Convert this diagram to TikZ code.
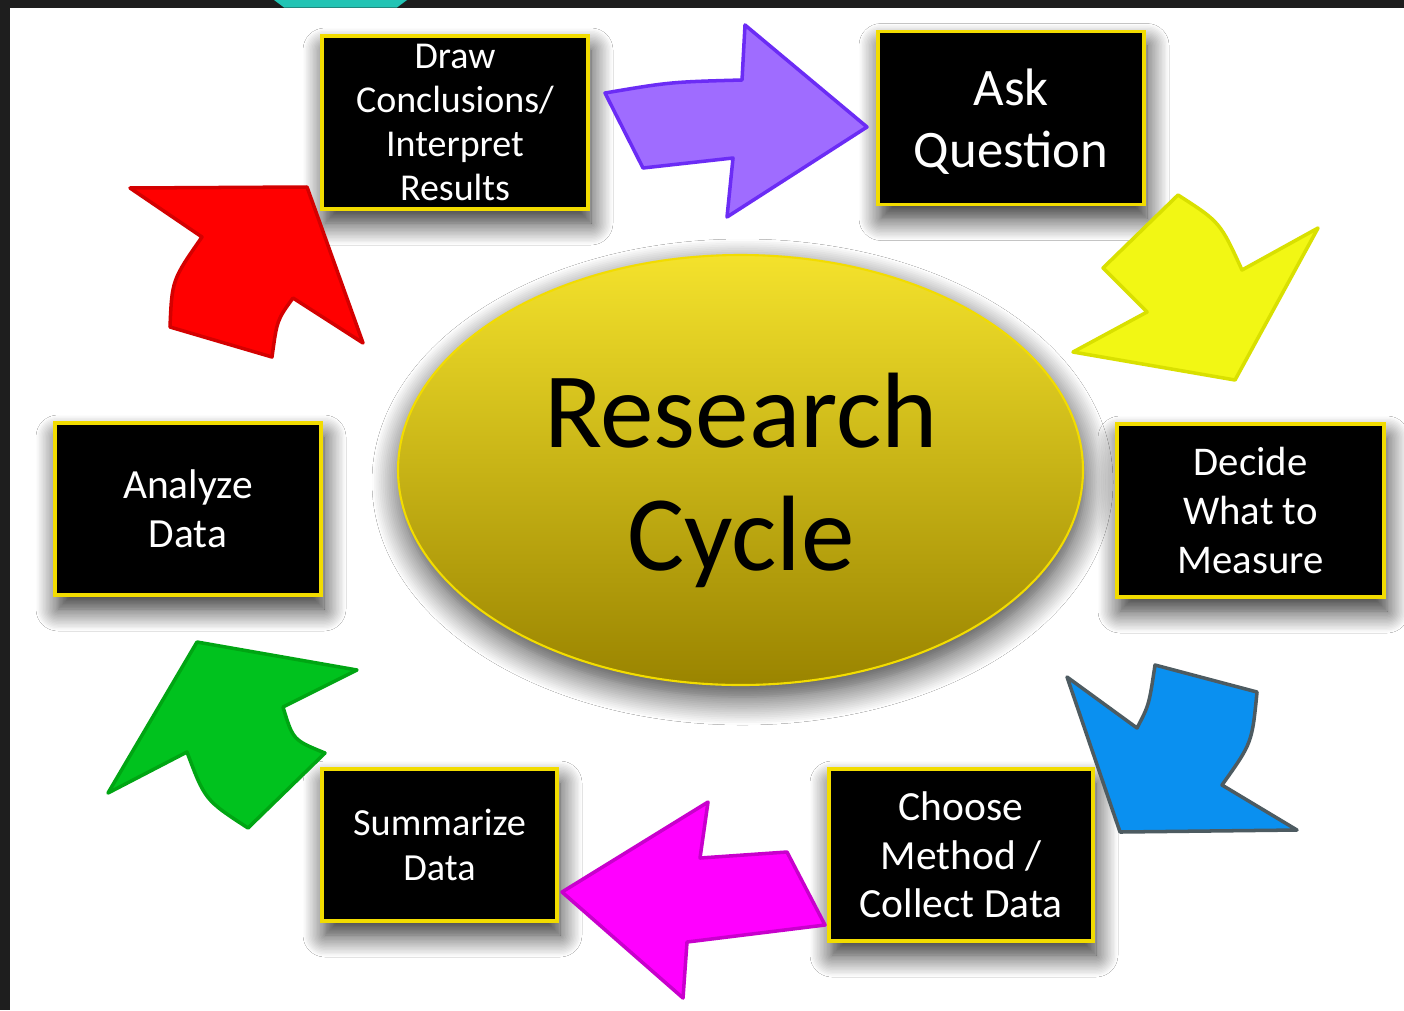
\documentclass[tikz,border=0pt]{standalone}
\usepackage{fontspec}
\setmainfont{Carlito}
\usetikzlibrary{shapes.geometric,shadows.blur}

\definecolor{frame}{HTML}{1E1E1E}
\definecolor{tab}{HTML}{22C4B4}
\definecolor{boxline}{HTML}{F2DC00}
\definecolor{goldtop}{HTML}{F4E22C}
\definecolor{goldmid}{HTML}{D6BE08}
\definecolor{goldbot}{HTML}{9A8400}
\definecolor{violetfill}{HTML}{9F6CFF}
\definecolor{violetline}{HTML}{6B2CF5}
\definecolor{lemonfill}{HTML}{F2F714}
\definecolor{lemonline}{HTML}{D9E000}
\definecolor{skyfill}{HTML}{0A90F0}
\definecolor{skyline}{HTML}{4D5B61}
\definecolor{pinkfill}{HTML}{FF00FF}
\definecolor{pinkline}{HTML}{C800CC}
\definecolor{leaffill}{HTML}{00C21E}
\definecolor{leafline}{HTML}{00A513}
\definecolor{firefill}{HTML}{FF0000}
\definecolor{fireline}{HTML}{D40000}

\begin{document}
\begin{tikzpicture}[x=1cm,y=-1cm,
	box/.style={draw=boxline, line width=0.9pt, fill=black, text=white, align=center, inner sep=0pt,
		minimum width=2.66cm, minimum height=1.73cm,
		blur shadow={shadow xshift=0.03cm, shadow yshift=-0.14cm, shadow blur steps=16, shadow blur radius=0.22cm, shadow opacity=85}},
	bigarrow/.style={line width=1pt, line join=round}]
	\useasboundingbox (0,0) rectangle (14.04,10.10);
	\fill[white] (0,0) rectangle (14.04,10.10);
	\fill[frame] (0,0) rectangle (14.04,0.075);
	\fill[frame] (0,0) rectangle (0.10,10.10);
	\fill[tab] (2.74,0) -- (4.07,0) -- (3.97,0.075) -- (2.84,0.075) -- cycle;

	\node (hub) at (7.405,4.70) [ellipse, minimum width=6.85cm, minimum height=4.30cm, draw=boxline, line width=0.6pt,
		top color=goldtop, middle color=goldmid, bottom color=goldbot,
		blur shadow={shadow xshift=0.02cm, shadow yshift=-0.12cm, shadow blur steps=16, shadow blur radius=0.28cm, shadow opacity=80}] {};
	\node[align=center, font=\fontsize{30.5}{35}\selectfont] (title) at (7.41,4.80) {Research\\Cycle};

	\node[box, font=\fontsize{10.8}{12.5}\selectfont] (conclude) at (4.55,1.225) {Draw\\Conclusions/\\Interpret\\Results};
	\node[box] (ask) at (10.11,1.18) {};
	\node[align=center, text=white, font=\fontsize{15}{17.6}\selectfont] (asktext) at (10.11,1.22) {Ask\\Question};
	\node[box, font=\fontsize{11.6}{13.9}\selectfont, minimum width=2.67cm] (decide) at (12.505,5.105) {Decide\\What to\\Measure};
	\node[box, font=\fontsize{11.8}{13.8}\selectfont, minimum width=2.64cm, minimum height=1.72cm] (choose) at (9.61,8.55) {Choose\\Method /\\Collect Data};
	\node[box, font=\fontsize{10.9}{12.8}\selectfont, minimum width=2.35cm, minimum height=1.52cm] (summarize) at (4.395,8.45) {Summarize\\Data};
	\node[box, font=\fontsize{11.8}{13.9}\selectfont, minimum height=1.72cm] (analyze) at (1.88,5.09) {Analyze\\Data};

	\draw[bigarrow, fill=violetfill, draw=violetline] (6.05,0.93) .. controls (6.70,0.82) .. (7.42,0.80) -- (7.45,0.25) -- (8.67,1.27) -- (7.27,2.17) -- (7.33,1.58) -- (6.43,1.68) -- cycle;
	\draw[bigarrow, fill=lemonfill, draw=lemonline] (11.03,2.68) -- (11.78,1.95) .. controls (12.20,2.22) .. (12.42,2.70) -- (13.18,2.28) -- (12.35,3.80) -- (10.73,3.52) -- (11.47,3.12) -- cycle;
	\draw[bigarrow, fill=skyfill, draw=skyline] (10.67,6.77) -- (11.37,7.28) .. controls (11.49,7.05) .. (11.55,6.65) -- (12.57,6.92) .. controls (12.52,7.43) .. (12.22,7.85) -- (12.97,8.30) -- (11.20,8.32) -- cycle;
	\draw[bigarrow, fill=pinkfill, draw=pinkline] (5.62,8.92) -- (7.08,8.02) -- (7.00,8.58) -- (7.87,8.52) -- (8.25,9.25) -- (6.87,9.42) -- (6.83,9.98) -- cycle;
	\draw[bigarrow, fill=leaffill, draw=leafline] (1.97,6.42) -- (3.57,6.70) -- (2.83,7.07) .. controls (2.93,7.40) .. (3.25,7.53) -- (2.48,8.28) .. controls (2.05,8.00) .. (1.87,7.52) -- (1.08,7.93) -- cycle;
	\draw[bigarrow, fill=firefill, draw=fireline] (1.30,1.88) -- (3.07,1.87) -- (3.63,3.43) -- (2.93,2.98) .. controls (2.77,3.20) .. (2.72,3.57) -- (1.70,3.27) .. controls (1.72,2.80) .. (2.02,2.37) -- cycle;
\end{tikzpicture}
\end{document}
